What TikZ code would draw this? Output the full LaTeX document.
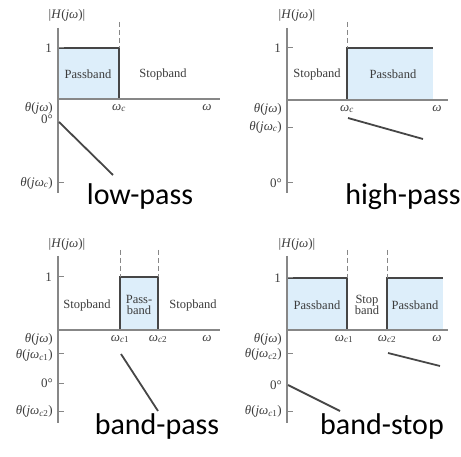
\documentclass[tikz,border=0pt]{standalone}
\usepackage{fontspec}
\setmainfont{Liberation Serif}
\newfontfamily\capfont{Carlito}
\usetikzlibrary{positioning}
\definecolor{axisgray}{RGB}{135,135,135}
\definecolor{edgegray}{RGB}{70,70,70}
\definecolor{bandblue}{RGB}{221,238,250}
\definecolor{labelgray}{RGB}{60,60,60}
\newcommand{\jw}{\textit{jω}}
\newcommand{\wc}[1]{\textit{ω}\textsubscript{\textit{c}#1}}

\begin{document}
\begin{tikzpicture}[x=1pt,y=-1pt,
    axis/.style={axisgray,line width=1.4pt},
    edge/.style={edgegray,line width=1.8pt},
    cut/.style={axisgray,line width=1pt,dash pattern=on 5pt off 3pt},
    lbl/.style={font=\fontsize{13}{14}\selectfont,text=labelgray,inner sep=1pt},
    band/.style={lbl,align=center,font=\fontsize{12.5}{11.5}\selectfont},
    filtername/.style={font=\capfont\fontsize{30}{32}\selectfont,fill=white,inner sep=1pt}
]
\useasboundingbox (0,0) rectangle (461,457);

% low-pass
\begin{scope}
\fill[bandblue] (58,48) rectangle (119,99);
\draw[edge] (58,48) -- (119,48) -- (119,99);
\draw[cut] (119,22) -- (119,48);
\draw[axis] (58,28) -- (58,193);
\draw[axis] (58,99) -- (220,99);
\draw[axis,line width=1pt] (58,48) -- (64,48) (58,183) -- (64,183);
\draw[edge] (59,122) -- (113,175);
\node[lbl] (lpMag) at (67,15) {|\textit{H}(\jw)|};
\node[lbl,anchor=east] (lpOne) at (53,48) {1};
\node[band] (lpPass) at (88,74) {Passband};
\node[band] (lpStop) at (163,74) {Stopband};
\node[lbl,anchor=east] (lpPhase) at (54,108) {\textit{θ}(\jw)};
\node[lbl,anchor=east] (lpZero) at (54,119) {0°};
\node[lbl,anchor=east] (lpPc) at (54,183) {\textit{θ}(\textit{j}\wc{})};
\node[lbl] (lpWc) at (119,108) {\wc{}};
\node[lbl] (lpW) at (207,108) {\textit{ω}};
\node[filtername] (lpName) at (140,197) {low-pass};
\end{scope}

% high-pass
\begin{scope}[shift={(230,0)}]
\fill[bandblue] (117,48) rectangle (203,100);
\draw[edge] (117,100) -- (117,48) -- (203,48);
\draw[cut] (117,22) -- (117,48);
\draw[axis] (57,28) -- (57,193);
\draw[axis] (57,100) -- (218,100);
\draw[axis,line width=1pt] (57,48) -- (63,48) (57,128) -- (63,128) (57,183) -- (63,183);
\draw[edge] (118,118) -- (193,139);
\node[lbl] (hpMag) at (67,15) {|\textit{H}(\jw)|};
\node[lbl,anchor=east] (hpOne) at (52,48) {1};
\node[band] (hpStop) at (87,74) {Stopband};
\node[band] (hpPass) at (163,74) {Passband};
\node[lbl,anchor=east] (hpPhase) at (53,109) {\textit{θ}(\jw)};
\node[lbl,anchor=east] (hpPc) at (53,127) {\textit{θ}(\textit{j}\wc{})};
\node[lbl,anchor=east] (hpZero) at (53,183) {0°};
\node[lbl] (hpWc) at (117,109) {\wc{}};
\node[lbl] (hpW) at (207,109) {\textit{ω}};
\node[filtername] (hpName) at (173,197) {high-pass};
\end{scope}

% band-pass
\begin{scope}[shift={(0,228)}]
\fill[bandblue] (120,49) rectangle (158,102);
\draw[edge] (120,102) -- (120,49) -- (158,49) -- (158,102);
\draw[cut] (120,22) -- (120,49) (158,22) -- (158,49);
\draw[axis] (58,28) -- (58,195);
\draw[axis] (58,102) -- (220,102);
\draw[axis,line width=1pt] (58,49) -- (64,49) (58,126) -- (64,126)
  (58,155) -- (64,155) (58,183) -- (64,183);
\draw[edge] (121,126) -- (158,183);
\node[lbl] (bpMag) at (67,16) {|\textit{H}(\jw)|};
\node[lbl,anchor=east] (bpOne) at (53,49) {1};
\node[band] (bpStopL) at (87,77) {Stopband};
\node[band] (bpPass) at (139,77) {Pass-\\band};
\node[band] (bpStopR) at (193,77) {Stopband};
\node[lbl,anchor=east] (bpPhase) at (54,111) {\textit{θ}(\jw)};
\node[lbl,anchor=east] (bpPc1) at (54,127) {\textit{θ}(\textit{j}\wc{1})};
\node[lbl,anchor=east] (bpZero) at (54,155) {0°};
\node[lbl,anchor=east] (bpPc2) at (54,183) {\textit{θ}(\textit{j}\wc{2})};
\node[lbl] (bpWc1) at (120,111) {\wc{1}};
\node[lbl] (bpWc2) at (158,111) {\wc{2}};
\node[lbl] (bpW) at (207,111) {\textit{ω}};
\node[filtername] (bpName) at (157,199) {band-pass};
\end{scope}

% band-stop
\begin{scope}[shift={(230,228)}]
\fill[bandblue] (57,50) rectangle (117,102);
\fill[bandblue] (157,50) rectangle (213,102);
\draw[edge] (57,50) -- (117,50) -- (117,102);
\draw[edge] (157,102) -- (157,50) -- (213,50);
\draw[cut] (117,22) -- (117,50) (157,22) -- (157,50);
\draw[axis] (57,28) -- (57,195);
\draw[axis] (57,102) -- (218,102);
\draw[axis,line width=1pt] (57,50) -- (63,50) (57,126) -- (63,126) (57,183) -- (63,183);
\draw[edge] (158,125) -- (210,138);
\draw[edge] (58,157) -- (110,183);
\node[lbl] (bsMag) at (67,16) {|\textit{H}(\jw)|};
\node[lbl,anchor=east] (bsOne) at (52,50) {1};
\node[band] (bsPassL) at (87,77) {Passband};
\node[band] (bsStop) at (137,77) {Stop\\band};
\node[band] (bsPassR) at (185,77) {Passband};
\node[lbl,anchor=east] (bsPhase) at (53,111) {\textit{θ}(\jw)};
\node[lbl,anchor=east] (bsPc2) at (53,126) {\textit{θ}(\textit{j}\wc{2})};
\node[lbl,anchor=east] (bsZero) at (53,157) {0°};
\node[lbl,anchor=east] (bsPc1) at (53,183) {\textit{θ}(\textit{j}\wc{1})};
\node[lbl] (bsWc1) at (114,111) {\wc{1}};
\node[lbl] (bsWc2) at (157,111) {\wc{2}};
\node[lbl] (bsW) at (207,111) {\textit{ω}};
\node[filtername] (bsName) at (152,199) {band-stop};
\end{scope}
\end{tikzpicture}
\end{document}
